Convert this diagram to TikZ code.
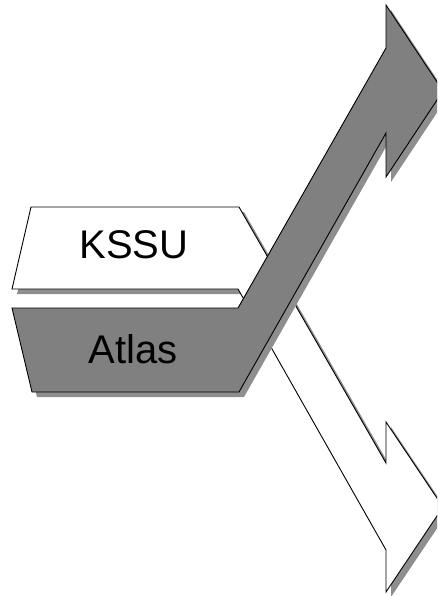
\documentclass[tikz,border=0pt]{standalone}
\usepackage{fontspec}
\setmainfont{Liberation Sans}
\definecolor{fillgray}{RGB}{128,128,128}
\definecolor{shadowgray}{RGB}{142,142,142}
\begin{document}
\begin{tikzpicture}[x=1pt,y=-1pt,
  outline/.style={draw=black,line width=0.9pt,line join=miter},
  shadowed/.style={fill=shadowgray,draw=none},
  lbl/.style={font=\fontsize{40}{48}\selectfont,text=black,inner sep=0pt,anchor=base}]
\useasboundingbox (0,0) rectangle (437,596);
\clip (0,0) rectangle (437,596);
% KSSU (white) arrow: shadow then shape
\begin{scope}[shift={(5,5)}]
\fill[shadowed] (31,207) -- (239,207) -- (386,463) -- (386,422) -- (443,507) -- (386,592) -- (386,550) -- (238,289) -- (12,289) -- cycle;
\end{scope}
\path[outline,fill=white] (31,207) -- (239,207) -- (386,463) -- (386,422) -- (443,507) -- (386,592) -- (386,550) -- (238,289) -- (12,289) -- cycle;
% Atlas (grey) arrow: shadow then shape
\begin{scope}[shift={(5,5)}]
\fill[shadowed] (12,308) -- (238,308) -- (386,48) -- (386,5) -- (443,91) -- (386,177) -- (386,133) -- (239,392) -- (32,392) -- cycle;
\end{scope}
\path[outline,fill=fillgray] (12,308) -- (238,308) -- (386,48) -- (386,5) -- (443,91) -- (386,177) -- (386,133) -- (239,392) -- (32,392) -- cycle;
\node[lbl] (kssu) at (134,258) {KSSU};
\node[lbl] (atlas) at (133,363) {Atlas};
\end{tikzpicture}
\end{document}
